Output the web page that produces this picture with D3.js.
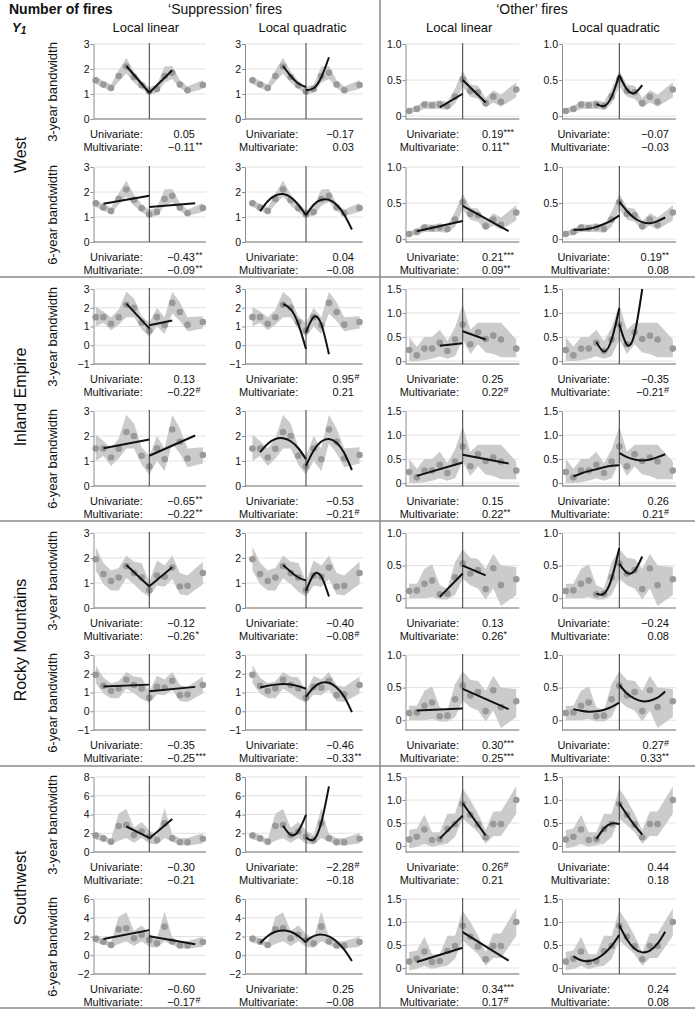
<!DOCTYPE html>
<html>
<head>
<meta charset="utf-8">
<script src="https://cdn.jsdelivr.net/npm/d3@7"></script>
<style>
body { margin: 0; background: #fff; }
text { font-family: "Liberation Sans", Arial, Helvetica, sans-serif; fill: #111; }
</style>
</head>
<body>
<div id="chart"></div>
<script>
// ---- data ----
const regions = ["West", "Inland Empire", "Rocky Mountains", "Southwest"];
const fireTypes = ["\u2018Suppression\u2019 fires", "\u2018Other\u2019 fires"];
const methods = ["Local linear", "Local quadratic"];
const bandwidths = ["3-year bandwidth", "6-year bandwidth"];
const bandwidthYears = [3, 6];
const years = [-7, -6, -5, -4, -3, -2, -1, 0, 1, 2, 3, 4, 5, 6, 7];

// yearly means and confidence band, one row per region
const suppMeans = [
  [1.55, 1.38, 1.24, 1.72, 2.1, 1.68, 1.35, 1.1, 1.2, 1.72, 1.85, 1.38, 1.15, null, 1.36],
  [1.5, 1.5, 1.14, 1.49, 2.16, 2.0, 1.21, 0.78, 1.5, 1.07, 2.26, 1.77, 1.1, null, 1.24],
  [1.95, 1.36, 1.08, 1.22, 1.68, 1.4, 1.22, 0.72, 1.3, 1.25, 1.62, 0.86, 0.89, null, 1.4],
  [1.76, 1.45, 1.09, 2.77, 2.88, 1.82, 2.18, 1.62, 1.27, 3.05, 1.47, 1.04, 1.04, null, 1.42]
];
const suppLow = [
  [1.4, 1.25, 1.12, 1.5, 1.82, 1.45, 1.2, 0.98, 1.05, 1.45, 1.6, 1.24, 1.04, null, 1.2],
  [1.0, 1.2, 0.8, 1.1, 1.5, 1.5, 0.85, 0.45, 1.0, 0.6, 1.7, 1.3, 0.75, null, 0.9],
  [1.5, 0.95, 0.7, 0.7, 1.2, 0.95, 0.65, 0.45, 0.9, 0.85, 1.15, 0.55, 0.5, null, 0.95],
  [1.3, 1.2, 0.8, 1.2, 1.5, 1.0, 1.5, 0.9, 0.8, 1.5, 1.1, 0.75, 0.7, null, 0.9]
];
const suppHigh = [
  [1.7, 1.52, 1.38, 1.95, 2.45, 1.9, 1.52, 1.28, 1.38, 2.1, 2.12, 1.55, 1.3, null, 1.56],
  [2.05, 1.8, 1.5, 1.9, 2.85, 2.5, 1.55, 1.2, 2.0, 1.5, 2.85, 2.3, 1.5, null, 1.55],
  [2.45, 1.8, 1.5, 1.6, 2.1, 1.85, 1.8, 1.05, 1.9, 1.7, 2.1, 1.4, 1.3, null, 1.85],
  [2.2, 1.75, 1.4, 4.1, 4.6, 2.6, 3.2, 2.3, 1.8, 4.7, 1.9, 1.5, 1.5, null, 2.0]
];
const otherMeans = [
  [0.07, 0.1, 0.16, 0.15, 0.16, 0.14, 0.27, 0.51, 0.35, 0.33, 0.18, 0.27, 0.2, null, 0.37],
  [0.23, 0.12, 0.26, 0.26, 0.38, 0.21, 0.45, 0.76, 0.35, 0.6, 0.46, 0.53, 0.45, null, 0.26],
  [0.11, 0.12, 0.22, 0.27, 0.06, 0.07, 0.32, 0.53, 0.38, 0.43, 0.14, 0.46, 0.2, null, 0.29],
  [0.14, 0.2, 0.36, 0.13, 0.15, 0.37, 0.48, 0.92, 0.68, 0.47, 0.19, 0.48, 0.48, null, 1.0]
];
const otherLow = [
  [0.04, 0.06, 0.1, 0.1, 0.1, 0.09, 0.17, 0.41, 0.27, 0.24, 0.12, 0.19, 0.13, null, 0.26],
  [0.0, 0.0, 0.02, 0.05, 0.1, 0.05, 0.1, 0.45, 0.15, 0.35, 0.18, 0.15, 0.08, null, 0.08],
  [0.0, 0.0, 0.0, 0.02, -0.02, -0.02, 0.05, 0.3, 0.2, 0.15, -0.02, 0.15, -0.12, null, 0.05],
  [-0.05, -0.02, 0.05, -0.02, 0.02, 0.05, 0.2, 0.6, 0.45, 0.3, 0.05, 0.22, 0.22, null, 0.7]
];
const otherHigh = [
  [0.11, 0.14, 0.21, 0.2, 0.22, 0.2, 0.38, 0.63, 0.44, 0.42, 0.25, 0.36, 0.3, null, 0.47],
  [0.5, 0.3, 0.5, 0.5, 0.65, 0.42, 0.7, 1.18, 0.65, 0.8, 0.8, 0.8, 0.8, null, 0.45],
  [0.22, 0.22, 0.45, 0.52, 0.2, 0.15, 0.55, 0.75, 0.62, 0.6, 0.45, 0.68, 0.5, null, 0.48],
  [0.35, 0.38, 0.68, 0.3, 0.3, 0.7, 0.7, 1.25, 1.0, 0.7, 0.35, 0.75, 0.75, null, 1.3]
];

// fitted curves: [left of cutoff, right of cutoff], evenly spaced over the bandwidth
const suppLin3 = [
  [[2.12, 1.05], [1.05, 1.95]],
  [[2.22, 0.9], [1.07, 1.32]],
  [[1.72, 0.86], [0.87, 1.63]],
  [[2.72, 1.5], [1.44, 3.52]]
];
const suppQuad3 = [
  [[2.12, 1.72, 1.42, 1.28], [1.15, 1.23, 1.67, 2.47]],
  [[2.2, 1.93, 1.13, -0.2], [0.68, 1.51, 1.12, -0.48]],
  [[1.72, 1.45, 1.22, 1.1], [0.68, 1.33, 1.26, 0.46]],
  [[2.8, 1.83, 2.23, 3.96], [1.55, 1.31, 3.14, 7.0]]
];
const suppLin6 = [
  [[1.53, 1.85], [1.4, 1.55]],
  [[1.51, 1.86], [1.21, 2.02]],
  [[1.32, 1.42], [1.07, 1.3]],
  [[1.73, 2.68], [2.02, 1.18]]
];
const suppQuad6 = [
  [[1.23, 1.63, 1.86, 1.92, 1.79, 1.49, 1.07], [1.07, 1.49, 1.69, 1.69, 1.49, 1.09, 0.5]],
  [[1.35, 1.69, 1.88, 1.91, 1.79, 1.51, 1.07], [0.81, 1.42, 1.78, 1.88, 1.73, 1.32, 0.64]],
  [[1.27, 1.36, 1.42, 1.45, 1.43, 1.34, 1.2], [0.77, 1.27, 1.52, 1.52, 1.27, 0.77, -0.05]],
  [[1.29, 2.05, 2.5, 2.65, 2.5, 2.05, 1.35], [1.54, 2.04, 2.2, 2.01, 1.47, 0.59, -0.62]]
];
const otherLin3 = [
  [[0.12, 0.31], [0.5, 0.19]],
  [[0.32, 0.37], [0.62, 0.45]],
  [[0.02, 0.38], [0.5, 0.35]],
  [[0.16, 0.66], [0.93, 0.23]]
];
const otherQuad3 = [
  [[0.17, 0.14, 0.27, 0.57], [0.57, 0.37, 0.32, 0.43]],
  [[0.4, 0.2, 0.45, 1.1], [0.77, 0.34, 0.57, 1.5]],
  [[0.07, 0.07, 0.3, 0.77], [0.53, 0.39, 0.42, 0.64]],
  [[0.15, 0.38, 0.49, 0.48], [0.93, 0.68, 0.45, 0.25]]
];
const otherLin6 = [
  [[0.11, 0.25], [0.46, 0.11]],
  [[0.15, 0.43], [0.59, 0.41]],
  [[0.15, 0.18], [0.48, 0.17]],
  [[0.13, 0.44], [0.78, 0.16]]
];
const otherQuad6 = [
  [[0.13, 0.13, 0.145, 0.17, 0.21, 0.26, 0.33], [0.52, 0.39, 0.29, 0.235, 0.22, 0.25, 0.3]],
  [[0.14, 0.2, 0.25, 0.29, 0.33, 0.36, 0.37], [0.63, 0.54, 0.49, 0.47, 0.49, 0.54, 0.6]],
  [[0.17, 0.144, 0.13, 0.136, 0.16, 0.205, 0.27], [0.54, 0.41, 0.33, 0.29, 0.3, 0.345, 0.44]],
  [[0.255, 0.17, 0.15, 0.2, 0.31, 0.48, 0.72], [0.93, 0.62, 0.42, 0.34, 0.38, 0.53, 0.79]]
];

// estimates, one row per region x bandwidth, one column per panel
const univariate = [
  ["0.05", "\u22120.17", "0.19***", "\u22120.07"],
  ["\u22120.43**", "0.04", "0.21***", "0.19**"],
  ["0.13", "0.95#", "0.25", "\u22120.35"],
  ["\u22120.65**", "\u22120.53", "0.15", "0.26"],
  ["\u22120.12", "\u22120.40", "0.13", "\u22120.24"],
  ["\u22120.35", "\u22120.46", "0.30***", "0.27#"],
  ["\u22120.30", "\u22122.28#", "0.26#", "0.44"],
  ["\u22120.60", "0.25", "0.34***", "0.24"]
];
const multivariate = [
  ["\u22120.11**", "0.03", "0.11**", "\u22120.03"],
  ["\u22120.09**", "\u22120.08", "0.09**", "0.08"],
  ["\u22120.22#", "0.21", "0.22#", "\u22120.21#"],
  ["\u22120.22**", "\u22120.21#", "0.22**", "0.21#"],
  ["\u22120.26*", "\u22120.08#", "0.26*", "0.08"],
  ["\u22120.25***", "\u22120.33**", "0.25***", "0.33**"],
  ["\u22120.21", "\u22120.18", "0.21", "0.18"],
  ["\u22120.17#", "\u22120.08", "0.17#", "0.08"]
];

// y ticks: suppression per row, other per region
const suppTicks = [[0, 1, 2, 3], [0, 1, 2, 3], [-1, 0, 1, 2, 3], [0, 1, 2, 3],
                   [0, 1, 2, 3], [-1, 0, 1, 2, 3], [0, 2, 4, 6, 8], [-2, 0, 2, 4, 6]];
const otherTicks = [[0, 0.5, 1], [0, 0.5, 1, 1.5], [0, 0.5, 1], [0, 0.5, 1, 1.5]];
const otherFloor = [-0.04, -0.06, -0.15, -0.13];

// ---- layout ----
const width = 695, height = 1011;
const cutX = [149.3, 306, 462.7, 619.3];
const axisX = [93.5, 245, 405.5, 562];
const yearPx = 7.65;
const rowTop = [44, 167, 289, 411, 533, 655, 777, 899];
const plotH = 75;
const labelRight = [142.7, 298.3, 459, 610];
const valuePos = [[195, "digits"], [354, "digits"], [482, "start"], [669, "end"]];
const regionCenter = [155, 397, 640, 888];
const separators = [277, 521, 766, 1008];

const fitTable = [
  [[suppLin3, suppLin6], [suppQuad3, suppQuad6]],
  [[otherLin3, otherLin6], [otherQuad3, otherQuad6]]
];

const svg = d3.select("#chart").append("svg")
  .attr("width", width)
  .attr("height", height);

// titles
svg.append("text").attr("x", 9).attr("y", 14)
  .attr("font-size", 14).attr("font-weight", "bold")
  .text("Number of fires");
const yLab = svg.append("text").attr("x", 12).attr("y", 32)
  .attr("font-size", 13).attr("font-weight", "bold").attr("font-style", "italic")
  .text("Y");
yLab.append("tspan").attr("font-size", 10).attr("dy", 2).text("1");

[225, 532].forEach((cx, i) => {
  svg.append("text").attr("x", cx).attr("y", 14)
    .attr("text-anchor", "middle").attr("font-size", 14)
    .text(fireTypes[i]);
});
cutX.forEach((cx, c) => {
  svg.append("text").attr("x", cx - 3.5).attr("y", 32)
    .attr("text-anchor", "middle").attr("font-size", 13)
    .text(methods[c % 2]);
});

// separators
separators.forEach(yy => {
  svg.append("line").attr("x1", 0).attr("x2", width).attr("y1", yy).attr("y2", yy)
    .attr("stroke", "#8a8a8a").attr("stroke-width", 1.5);
});
svg.append("line").attr("x1", 380).attr("x2", 380).attr("y1", 0).attr("y2", 1008)
  .attr("stroke", "#8a8a8a").attr("stroke-width", 1.5);

// region labels
regions.forEach((name, i) => {
  svg.append("text")
    .attr("transform", `translate(20,${regionCenter[i]}) rotate(-90)`)
    .attr("text-anchor", "middle").attr("dy", "0.35em")
    .attr("font-size", 16)
    .text(name);
});

const fmtSupp = d3.format("d");
const fmtOther = v => v === 0 ? "0" : d3.format(".1f")(v);

rowTop.forEach((top, r) => {
  const region = Math.floor(r / 2), bw = r % 2, half = bandwidthYears[bw];
  const bottom = top + plotH;

  svg.append("text")
    .attr("transform", `translate(52,${top + 48}) rotate(-90)`)
    .attr("text-anchor", "middle").attr("dy", "0.35em")
    .attr("font-size", 13)
    .text(bandwidths[bw]);

  for (let c = 0; c < 4; c++) {
    const type = Math.floor(c / 2), method = c % 2;
    const means = type ? otherMeans[region] : suppMeans[region];
    const lows = type ? otherLow[region] : suppLow[region];
    const highs = type ? otherHigh[region] : suppHigh[region];
    const ticks = type ? otherTicks[region] : suppTicks[r];
    const yMin = type ? otherFloor[region] : ticks[0];
    const yMax = ticks[ticks.length - 1];

    const x = d3.scaleLinear().domain([-7, 7])
      .range([cutX[c] - 7 * yearPx, cutX[c] + 7 * yearPx]);
    const y = d3.scaleLinear().domain([yMin, yMax]).range([bottom, top]);
    const xRight = x(7.4);

    const g = svg.append("g");

    // gridlines
    g.selectAll("line.grid")
      .data(ticks.filter(t => y(t) < bottom - 1))
      .join("line")
      .attr("class", "grid")
      .attr("x1", axisX[c]).attr("x2", xRight)
      .attr("y1", d => y(d)).attr("y2", d => y(d))
      .attr("stroke", "#e2e2e2").attr("stroke-width", 1);

    // confidence band
    const band = years.map((yr, i) => ({ yr, lo: lows[i], hi: highs[i] }))
      .filter(d => d.lo != null);
    g.append("path").datum(band)
      .attr("d", d3.area().x(d => x(d.yr)).y0(d => y(d.lo)).y1(d => y(d.hi)))
      .attr("fill", "#cbcbcb");

    // yearly means
    g.selectAll("circle")
      .data(years.map((yr, i) => ({ yr, v: means[i] })).filter(d => d.v != null))
      .join("circle")
      .attr("cx", d => x(d.yr)).attr("cy", d => y(d.v))
      .attr("r", 3.3).attr("fill", "#999");

    // x baseline
    g.append("line")
      .attr("x1", axisX[c]).attr("x2", xRight)
      .attr("y1", bottom).attr("y2", bottom)
      .attr("stroke", "#b4b4b4").attr("stroke-width", 2);

    // cutoff
    g.append("line")
      .attr("x1", x(0)).attr("x2", x(0))
      .attr("y1", top - 1).attr("y2", bottom)
      .attr("stroke", "#3a3a3a").attr("stroke-width", 1);

    // fitted curves
    const fit = fitTable[type][method][bw][region];
    const line = d3.line().x(p => x(p[0])).y(p => y(p[1]))
      .curve(method ? d3.curveNatural : d3.curveLinear);
    [[-half, 0], [0, half]].forEach(([a, b], side) => {
      const vals = fit[side];
      const pts = vals.map((v, i) => [a + (b - a) * i / (vals.length - 1), v]);
      g.append("path").attr("d", line(pts))
        .attr("fill", "none").attr("stroke", "#111")
        .attr("stroke-width", 2).attr("stroke-linecap", "butt");
    });

    // y axis
    const ga = svg.append("g")
      .attr("transform", `translate(${axisX[c]},0)`)
      .call(d3.axisLeft(y).tickValues(ticks).tickSize(3).tickSizeOuter(0)
        .tickFormat(type ? fmtOther : fmtSupp));
    ga.select(".domain").attr("stroke", "#8c8c8c");
    ga.selectAll(".tick line").attr("stroke", "#8c8c8c");
    ga.selectAll(".tick text")
      .attr("font-family", "\"Liberation Sans\", Arial, sans-serif")
      .attr("font-size", 10.5).attr("fill", "#111").attr("x", -4);

    // estimates
    [["Univariate:", univariate[r][c]], ["Multivariate:", multivariate[r][c]]]
      .forEach(([lab, val], k) => {
        const yy = bottom + 19 + k * 13;
        svg.append("text").attr("x", labelRight[c]).attr("y", yy)
          .attr("text-anchor", "end").attr("font-size", 11).text(lab);
        const m = val.match(/^([\u2212\d.]+)(.*)$/);
        const num = m[1], mark = m[2];
        const [vx, mode] = valuePos[c];
        if (mode === "digits") {
          svg.append("text").attr("x", vx).attr("y", yy)
            .attr("text-anchor", "end").attr("font-size", 11).text(num);
          if (mark) {
            svg.append("text").attr("x", vx + 0.5).attr("y", yy - 3.5)
              .attr("font-size", 9).text(mark);
          }
        } else {
          const t = svg.append("text").attr("x", vx).attr("y", yy)
            .attr("text-anchor", mode).attr("font-size", 11);
          t.append("tspan").text(num);
          if (mark) t.append("tspan").attr("font-size", 9).attr("dy", -3.5).text(mark);
        }
      });
  }
});
</script>
</body>
</html>
